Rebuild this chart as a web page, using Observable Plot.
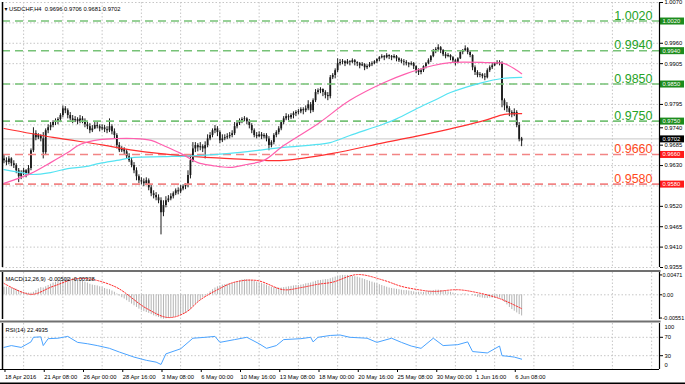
<!DOCTYPE html>
<html><head><meta charset="utf-8">
<script src="https://cdn.jsdelivr.net/npm/d3@7"></script>
<script src="https://cdn.jsdelivr.net/npm/@observablehq/plot@0.6"></script>
<style>
body{margin:0;background:#fff;}
#chart{position:relative;width:685px;height:384px;overflow:hidden;background:#fff;}
#chart svg{position:absolute;left:0;overflow:visible;}
</style></head><body><div id="chart"></div>
<script>
// ---------- DATA ----------
const symbolTitle = "\u25BE USDCHF,H4  0.9696 0.9706 0.9681 0.9702";
const macdTitle = "MACD(12,26,9) -0.00502 -0.00328";
const rsiTitle = "RSI(14) 22.4935";

const open = [0.9648,0.9643,0.9638,0.9648,0.9635,0.9630,0.9616,0.9600,0.9611,0.9616,0.9608,0.9622,0.9670,0.9716,0.9705,0.9711,0.9702,0.9665,0.9724,0.9732,0.9738,0.9746,0.9748,0.9754,0.9765,0.9783,0.9778,0.9765,0.9756,0.9751,0.9754,0.9748,0.9756,0.9751,0.9740,0.9735,0.9724,0.9729,0.9738,0.9735,0.9729,0.9732,0.9727,0.9724,0.9735,0.9721,0.9711,0.9684,0.9670,0.9673,0.9667,0.9654,0.9643,0.9630,0.9616,0.9600,0.9589,0.9586,0.9581,0.9589,0.9570,0.9554,0.9549,0.9543,0.9535,0.9503,0.9522,0.9535,0.9540,0.9546,0.9554,0.9562,0.9559,0.9567,0.9573,0.9576,0.9603,0.9643,0.9675,0.9684,0.9678,0.9681,0.9675,0.9684,0.9702,0.9711,0.9724,0.9729,0.9719,0.9697,0.9702,0.9705,0.9708,0.9711,0.9716,0.9735,0.9743,0.9751,0.9754,0.9756,0.9748,0.9738,0.9724,0.9711,0.9708,0.9713,0.9708,0.9711,0.9702,0.9684,0.9692,0.9711,0.9719,0.9729,0.9746,0.9756,0.9762,0.9759,0.9765,0.9770,0.9773,0.9775,0.9781,0.9778,0.9783,0.9794,0.9778,0.9805,0.9827,0.9832,0.9835,0.9827,0.9819,0.9816,0.9867,0.9873,0.9886,0.9905,0.9908,0.9910,0.9905,0.9910,0.9908,0.9913,0.9908,0.9905,0.9899,0.9902,0.9894,0.9897,0.9902,0.9905,0.9910,0.9916,0.9921,0.9924,0.9921,0.9927,0.9924,0.9921,0.9924,0.9918,0.9913,0.9910,0.9908,0.9905,0.9902,0.9905,0.9897,0.9886,0.9881,0.9886,0.9897,0.9905,0.9913,0.9924,0.9940,0.9943,0.9948,0.9940,0.9929,0.9924,0.9927,0.9921,0.9913,0.9908,0.9918,0.9935,0.9940,0.9945,0.9935,0.9927,0.9894,0.9881,0.9873,0.9875,0.9870,0.9867,0.9886,0.9894,0.9899,0.9905,0.9908,0.9905,0.9805,0.9791,0.9783,0.9773,0.9767,0.9773,0.9738,0.9696];
const high = [0.9657,0.9651,0.9654,0.9651,0.9643,0.9635,0.9622,0.9616,0.9622,0.9619,0.9630,0.9675,0.9732,0.9724,0.9716,0.9713,0.9719,0.9729,0.9740,0.9746,0.9751,0.9756,0.9759,0.9770,0.9791,0.9789,0.9783,0.9773,0.9765,0.9762,0.9759,0.9765,0.9762,0.9756,0.9748,0.9743,0.9738,0.9746,0.9746,0.9740,0.9740,0.9738,0.9735,0.9756,0.9740,0.9729,0.9716,0.9692,0.9681,0.9678,0.9673,0.9662,0.9651,0.9638,0.9624,0.9605,0.9597,0.9594,0.9597,0.9594,0.9576,0.9562,0.9557,0.9551,0.9543,0.9535,0.9546,0.9549,0.9554,0.9559,0.9567,0.9570,0.9576,0.9578,0.9581,0.9616,0.9657,0.9692,0.9692,0.9689,0.9692,0.9686,0.9694,0.9713,0.9719,0.9729,0.9738,0.9735,0.9724,0.9713,0.9713,0.9716,0.9719,0.9724,0.9746,0.9751,0.9756,0.9759,0.9762,0.9759,0.9754,0.9743,0.9729,0.9719,0.9721,0.9719,0.9716,0.9716,0.9708,0.9697,0.9716,0.9724,0.9735,0.9751,0.9762,0.9770,0.9767,0.9770,0.9775,0.9778,0.9781,0.9786,0.9786,0.9791,0.9805,0.9800,0.9810,0.9835,0.9837,0.9840,0.9837,0.9832,0.9827,0.9873,0.9878,0.9891,0.9918,0.9916,0.9916,0.9913,0.9916,0.9913,0.9918,0.9916,0.9910,0.9908,0.9908,0.9905,0.9902,0.9908,0.9910,0.9913,0.9918,0.9924,0.9929,0.9927,0.9932,0.9929,0.9927,0.9929,0.9927,0.9921,0.9918,0.9916,0.9913,0.9908,0.9910,0.9908,0.9899,0.9891,0.9891,0.9899,0.9908,0.9918,0.9927,0.9943,0.9948,0.9956,0.9951,0.9943,0.9935,0.9932,0.9929,0.9924,0.9916,0.9921,0.9937,0.9943,0.9953,0.9948,0.9940,0.9929,0.9899,0.9886,0.9881,0.9878,0.9878,0.9891,0.9899,0.9905,0.9908,0.9913,0.9913,0.9910,0.9810,0.9800,0.9789,0.9778,0.9783,0.9778,0.9746,0.9706];
const low = [0.9635,0.9630,0.9632,0.9627,0.9622,0.9608,0.9584,0.9592,0.9603,0.9597,0.9603,0.9616,0.9665,0.9697,0.9700,0.9694,0.9648,0.9657,0.9716,0.9724,0.9732,0.9738,0.9740,0.9746,0.9759,0.9770,0.9756,0.9751,0.9743,0.9746,0.9740,0.9743,0.9743,0.9732,0.9727,0.9716,0.9719,0.9727,0.9729,0.9721,0.9724,0.9719,0.9716,0.9719,0.9713,0.9702,0.9675,0.9665,0.9665,0.9659,0.9648,0.9638,0.9624,0.9608,0.9589,0.9581,0.9578,0.9573,0.9576,0.9562,0.9546,0.9540,0.9535,0.9527,0.9443,0.9492,0.9516,0.9530,0.9535,0.9540,0.9549,0.9551,0.9554,0.9562,0.9565,0.9570,0.9594,0.9638,0.9665,0.9667,0.9670,0.9665,0.9648,0.9678,0.9697,0.9705,0.9716,0.9708,0.9689,0.9692,0.9697,0.9700,0.9702,0.9705,0.9711,0.9729,0.9738,0.9743,0.9748,0.9740,0.9729,0.9716,0.9705,0.9702,0.9705,0.9700,0.9702,0.9694,0.9670,0.9678,0.9686,0.9705,0.9713,0.9724,0.9740,0.9751,0.9751,0.9754,0.9756,0.9762,0.9767,0.9770,0.9767,0.9773,0.9778,0.9770,0.9773,0.9800,0.9821,0.9824,0.9816,0.9810,0.9805,0.9810,0.9862,0.9864,0.9881,0.9899,0.9902,0.9897,0.9902,0.9899,0.9905,0.9899,0.9897,0.9891,0.9897,0.9886,0.9889,0.9894,0.9897,0.9902,0.9905,0.9910,0.9918,0.9913,0.9918,0.9916,0.9913,0.9918,0.9910,0.9908,0.9905,0.9899,0.9899,0.9894,0.9899,0.9889,0.9878,0.9873,0.9875,0.9881,0.9891,0.9902,0.9908,0.9921,0.9932,0.9937,0.9932,0.9924,0.9918,0.9921,0.9913,0.9908,0.9899,0.9905,0.9916,0.9929,0.9937,0.9929,0.9921,0.9886,0.9873,0.9867,0.9867,0.9864,0.9859,0.9864,0.9881,0.9889,0.9897,0.9902,0.9899,0.9786,0.9778,0.9773,0.9762,0.9759,0.9762,0.9732,0.9694,0.9681];
const close = [0.9643,0.9638,0.9648,0.9635,0.9630,0.9616,0.9600,0.9611,0.9616,0.9608,0.9622,0.9670,0.9716,0.9705,0.9711,0.9702,0.9665,0.9724,0.9732,0.9738,0.9746,0.9748,0.9754,0.9765,0.9783,0.9778,0.9765,0.9756,0.9751,0.9754,0.9748,0.9756,0.9751,0.9740,0.9735,0.9724,0.9729,0.9738,0.9735,0.9729,0.9732,0.9727,0.9724,0.9735,0.9721,0.9711,0.9684,0.9670,0.9673,0.9667,0.9654,0.9643,0.9630,0.9616,0.9600,0.9589,0.9586,0.9581,0.9589,0.9570,0.9554,0.9549,0.9543,0.9535,0.9503,0.9522,0.9535,0.9540,0.9546,0.9554,0.9562,0.9559,0.9567,0.9573,0.9576,0.9603,0.9643,0.9675,0.9684,0.9678,0.9681,0.9675,0.9684,0.9702,0.9711,0.9724,0.9729,0.9719,0.9697,0.9702,0.9705,0.9708,0.9711,0.9716,0.9735,0.9743,0.9751,0.9754,0.9756,0.9748,0.9738,0.9724,0.9711,0.9708,0.9713,0.9708,0.9711,0.9702,0.9684,0.9692,0.9711,0.9719,0.9729,0.9746,0.9756,0.9762,0.9759,0.9765,0.9770,0.9773,0.9775,0.9781,0.9778,0.9783,0.9794,0.9778,0.9805,0.9827,0.9832,0.9835,0.9827,0.9819,0.9816,0.9867,0.9873,0.9886,0.9905,0.9908,0.9910,0.9905,0.9910,0.9908,0.9913,0.9908,0.9905,0.9899,0.9902,0.9894,0.9897,0.9902,0.9905,0.9910,0.9916,0.9921,0.9924,0.9921,0.9927,0.9924,0.9921,0.9924,0.9918,0.9913,0.9910,0.9908,0.9905,0.9902,0.9905,0.9897,0.9886,0.9881,0.9886,0.9897,0.9905,0.9913,0.9924,0.9940,0.9943,0.9948,0.9940,0.9929,0.9924,0.9927,0.9921,0.9913,0.9908,0.9918,0.9935,0.9940,0.9945,0.9935,0.9927,0.9894,0.9881,0.9873,0.9875,0.9870,0.9867,0.9886,0.9894,0.9899,0.9905,0.9908,0.9905,0.9805,0.9791,0.9783,0.9773,0.9767,0.9773,0.9738,0.9700,0.9702];

const maRedIdx = [0,20,40,53,72,92,106,114,134,155,175,196,204,211];
const maRedVal = [0.9730,0.9706,0.9686,0.9671,0.9657,0.9649,0.9644,0.9644,0.9663,0.9692,0.9719,0.9752,0.9768,0.9770];
const maPinkIdx = [0,11,19,26,31,39,46,53,60,65,72,79,85,92,99,106,114,128,141,155,164,175,182,196,204,209,211];
const maPinkVal = [0.9582,0.9609,0.9638,0.9665,0.9687,0.9700,0.9703,0.9703,0.9698,0.9684,0.9663,0.9638,0.9630,0.9625,0.9633,0.9644,0.9684,0.9743,0.9806,0.9854,0.9878,0.9900,0.9908,0.9908,0.9905,0.9887,0.9878];
const maCyanIdx = [0,7,11,19,26,33,39,46,53,65,79,92,106,114,128,133,141,155,160,169,177,182,195,203,211];
const maCyanVal = [0.9619,0.9611,0.9606,0.9611,0.9622,0.9627,0.9636,0.9644,0.9652,0.9654,0.9657,0.9663,0.9673,0.9679,0.9687,0.9692,0.9711,0.9743,0.9756,0.9786,0.9811,0.9827,0.9854,0.9865,0.9868];

const greenLevels = [1.0020, 0.9940, 0.9850, 0.9750];
const redLevels = [0.9660, 0.9580];
const lastPrice = 0.9702;
const priceTicks = [1.0070,1.0015,0.9960,0.9905,0.9850,0.9795,0.9740,0.9685,0.9630,0.9575,0.9520,0.9465,0.9410,0.9355];
const priceTicksUnderBoxes = [1.0015, 0.9850, 0.9575];
const priceTicksPushedDown = [0.9740];

const macdHist = [0.0018,0.0018,0.0017,0.0016,0.0015,0.0013,0.0010,0.0008,0.0006,0.0005,
0.0004,0.0004,0.0006,0.0010,0.0014,0.0017,0.0016,0.0019,0.0022,0.0025,
0.0028,0.0030,0.0032,0.0034,0.0037,0.0039,0.0040,0.0040,0.0039,0.0038,
0.0036,0.0034,0.0032,0.0030,0.0028,0.0025,0.0023,0.0022,0.0021,0.0019,
0.0017,0.0015,0.0013,0.0012,0.0009,0.0006,0.0002,-0.0003,-0.0007,-0.0010,
-0.0014,-0.0018,-0.0022,-0.0026,-0.0030,-0.0034,-0.0037,-0.0040,-0.0042,-0.0044,
-0.0047,-0.0050,-0.0052,-0.0054,-0.0057,-0.0058,-0.0057,-0.0056,-0.0055,-0.0054,
-0.0052,-0.0050,-0.0048,-0.0046,-0.0044,-0.0040,-0.0034,-0.0028,-0.0022,-0.0017,
-0.0012,-0.0007,-0.0003,0.0002,0.0007,0.0012,0.0016,0.0019,0.0021,0.0023,
0.0024,0.0025,0.0026,0.0027,0.0029,0.0031,0.0033,0.0035,0.0036,0.0036,
0.0035,0.0034,0.0032,0.0030,0.0028,0.0027,0.0025,0.0023,0.0020,0.0018,
0.0017,0.0016,0.0016,0.0016,0.0017,0.0018,0.0019,0.0020,0.0021,0.0022,
0.0022,0.0023,0.0024,0.0026,0.0027,0.0028,0.0030,0.0032,0.0034,0.0034,
0.0035,0.0036,0.0036,0.0038,0.0040,0.0042,0.0044,0.0045,0.0046,0.0046,
0.0046,0.0045,0.0044,0.0043,0.0042,0.0040,0.0038,0.0036,0.0034,0.0032,
0.0030,0.0028,0.0026,0.0024,0.0022,0.0020,0.0018,0.0016,0.0015,0.0014,
0.0013,0.0012,0.0011,0.0010,0.0010,0.0009,0.0008,0.0007,0.0006,0.0006,
0.0006,0.0006,0.0007,0.0008,0.0009,0.0010,0.0011,0.0011,0.0010,0.0009,
0.0008,0.0007,0.0006,0.0004,0.0002,0.0001,0.0001,0.0002,0.0002,0.0001,
0.0000,-0.0002,-0.0004,-0.0006,-0.0007,-0.0008,-0.0009,-0.0009,-0.0008,-0.0008,
-0.0008,-0.0008,-0.0008,-0.0012,-0.0018,-0.0024,-0.0030,-0.0035,-0.0039,-0.0043,
-0.0047,-0.00502];
const macdSignalIdx = [0,11,20,31,45,58,67,74,80,87,94,103,114,121,128,134,144,155,162,169,175,185,193,202,211];
const macdSignalVal = [0.0027,0.0001,0.0020,0.0039,0.0020,-0.0032,-0.0054,-0.0042,-0.0012,0.0012,0.0030,0.0034,0.0012,0.0017,0.0025,0.0030,0.0048,0.0034,0.0020,0.0012,0.0008,0.0012,0.0005,-0.0009,-0.00328];
const macdTicks = [0.00471, 0, -0.00551];
const macdTickLabels = ["0.00471", "0.00", "-0.00551"];

const rsiIdx = [0,3,7,11,12,15,16,18,22,26,30,34,38,43,47,53,58,62,64,66,72,77,82,86,88,94,99,104,107,111,114,121,125,126,128,133,137,141,148,152,158,162,166,170,175,179,185,189,191,197,202,203,205,208,211];
const rsiVal = [48,52,48,60,70,71,52,67,68,72,59,56,52,46,38,27,20,16,11,34,45,68,70,72,59,65,70,56,46,52,65,67,70,60,70,74,75,70,68,59,68,59,51,46,68,52,54,60,39,36,51,30,29,27,22.49];
const rsiLevels = [70, 30];

const xTickIdx = [0,16,32,48,64,80,96,112,128,144,160,176,192,208];
const xTickLabels = ["18 Apr 2016","21 Apr 08:00","26 Apr 00:00","28 Apr 16:00","3 May 08:00","6 May 00:00","10 May 16:00","13 May 08:00","18 May 00:00","20 May 16:00","25 May 08:00","30 May 00:00","1 Jun 16:00","6 Jun 08:00"];
const gridIdx = [8,24,40,56,72,88,104,120,136,152,168,184,200,216,232,248,264];

// ---------- LAYOUT ----------
const W = 685, ML = 2, MR = 26;
const FRAME_W = W - ML - MR;
const FONT = "'Liberation Sans', Arial, 'DejaVu Sans', sans-serif";
const xDomain = [-0.61, 267.2];
const GRID = {stroke: "#c6c6c6", strokeDasharray: "1.5,2", strokeWidth: 1};
const GREEN_LINE = "#77c277", GREEN_TEXT = "#27a327", GREEN_BOX = "#1d8c1d";
const RED_LINE = "#f28585", RED_TEXT = "#ff4a1c", RED_BOX = "#ff1a1a";
const SEP = {stroke: "#707070", strokeWidth: 2};
const smallFont = 5.8;
const fmt4 = d => d.toFixed(4);

const bars = open.map((o, i) => ({i, o, h: high[i], l: low[i], c: close[i]}));
const pairs = (idx, val) => idx.map((i, k) => ({i, v: val[k]}));
const maRed = pairs(maRedIdx, maRedVal);
const maPink = pairs(maPinkIdx, maPinkVal);
const maCyan = pairs(maCyanIdx, maCyanVal);
const macd = macdHist.map((v, i) => ({i, v}));
const signal = pairs(macdSignalIdx, macdSignalVal);
const rsi = pairs(rsiIdx, rsiVal);
const xLabel = new Map(xTickIdx.map((d, k) => [d, xTickLabels[k]]));
const macdLabel = new Map(macdTicks.map((d, k) => [d, macdTickLabels[k]]));
const normalPriceTicks = priceTicks.filter(d => !priceTicksUnderBoxes.includes(d) && !priceTicksPushedDown.includes(d));

const rightBox = (values, fill) => [
  Plot.ruleY(values, {stroke: fill, strokeWidth: 7, insetLeft: FRAME_W + 1, insetRight: -(MR - 1)}),
  Plot.text(values, {y: d => d, text: fmt4, frameAnchor: "right", textAnchor: "start", dx: 3, fill: "white", fontSize: smallFont})
];
const sideBorders = [
  Plot.ruleX([xDomain[0]], {stroke: "#000", strokeWidth: 1.5, insetLeft: -1}),
  Plot.ruleX([xDomain[1]], {stroke: "#000", strokeWidth: 1.2})
];

const main = Plot.plot({
  width: W, height: 270, marginLeft: ML, marginRight: MR, marginTop: 2, marginBottom: 3,
  style: {fontFamily: FONT, fontSize: smallFont + "px", background: "transparent", color: "#000"},
  x: {domain: xDomain, axis: null},
  y: {domain: [0.9355, 1.0070], axis: null},
  marks: [
    Plot.ruleY(priceTicks, GRID),
    Plot.ruleX(gridIdx, GRID),
    Plot.ruleY([lastPrice], {stroke: "#c8c8c8"}),
    Plot.ruleX(bars, {x: "i", y1: "l", y2: "h", stroke: "#1a1a1a", strokeWidth: 1}),
    Plot.ruleX(bars, {x: "i", y1: "o", y2: "c", stroke: "#1a1a1a", strokeWidth: 1.8}),
    Plot.ruleY(greenLevels, {stroke: GREEN_LINE, strokeWidth: 1.6, strokeDasharray: "8,5"}),
    Plot.ruleY(redLevels, {stroke: RED_LINE, strokeWidth: 1.6, strokeDasharray: "8,5"}),
    Plot.line(maRed, {x: "i", y: "v", stroke: "#ff3030", strokeWidth: 1.2, curve: "catmull-rom"}),
    Plot.line(maCyan, {x: "i", y: "v", stroke: "#55e3f2", strokeWidth: 1.2, curve: "catmull-rom"}),
    Plot.line(maPink, {x: "i", y: "v", stroke: "#ff5fae", strokeWidth: 1.2, curve: "catmull-rom"}),
    Plot.text(greenLevels, {y: d => d, text: fmt4, frameAnchor: "right", textAnchor: "end", dx: -7, dy: -5.5, fill: GREEN_TEXT, fontSize: 12.5}),
    Plot.text(redLevels, {y: d => d, text: fmt4, frameAnchor: "right", textAnchor: "end", dx: -7, dy: -5.5, fill: RED_TEXT, fontSize: 12.5}),
    Plot.text([symbolTitle], {frameAnchor: "top-left", dx: 2, dy: 4.5, fill: "#000", fontSize: smallFont}),
    Plot.axisY(normalPriceTicks, {anchor: "right", tickSize: 3, tickPadding: 2, tickFormat: fmt4, fontSize: smallFont, label: null}),
    Plot.axisY(priceTicksPushedDown, {anchor: "right", tickSize: 3, tickPadding: 2, tickFormat: fmt4, fontSize: smallFont, dy: 3, label: null}),
    ...rightBox(greenLevels, GREEN_BOX),
    ...rightBox(redLevels, RED_BOX),
    ...rightBox([lastPrice], "#000"),
    ...sideBorders
  ]
});

const macdPlot = Plot.plot({
  width: W, height: 51, marginLeft: ML, marginRight: MR, marginTop: 2, marginBottom: 2,
  style: {fontFamily: FONT, fontSize: smallFont + "px", background: "transparent", color: "#000"},
  x: {domain: xDomain, axis: null},
  y: {domain: [-0.00586, 0.00529], axis: null},
  marks: [
    Plot.ruleY([0], GRID),
    Plot.ruleX(gridIdx, GRID),
    Plot.ruleX(macd, {x: "i", y1: 0, y2: "v", stroke: "#b4b4b4", strokeWidth: 1}),
    Plot.line(signal, {x: "i", y: "v", stroke: "#ff2a2a", strokeWidth: 1, strokeDasharray: "1.5,1.5", curve: "catmull-rom"}),
    Plot.text([macdTitle], {frameAnchor: "top-left", dx: 3, dy: 4, fill: "#000", fontSize: smallFont}),
    Plot.axisY(macdTicks, {anchor: "right", tickSize: 2, tickPadding: 1, tickFormat: d => macdLabel.get(d), fontSize: 5.5, label: null}),
    ...sideBorders,
    Plot.frame({...SEP, anchor: "top", insetTop: -1.5, insetLeft: -2}),
    Plot.frame({...SEP, anchor: "bottom", insetBottom: -2, insetLeft: -2})
  ]
});

const rsiPlot = Plot.plot({
  width: W, height: 63, marginLeft: ML, marginRight: MR, marginTop: 2, marginBottom: 15,
  style: {fontFamily: FONT, fontSize: smallFont + "px", background: "transparent", color: "#000"},
  x: {domain: xDomain, axis: null},
  y: {domain: [0, 100], axis: null},
  marks: [
    Plot.ruleY(rsiLevels, GRID),
    Plot.ruleX(gridIdx, GRID),
    Plot.line(rsi, {x: "i", y: "v", stroke: "#4aa3ff", strokeWidth: 1}),
    Plot.text([rsiTitle], {frameAnchor: "top-left", dx: 3, dy: 4, fill: "#000", fontSize: smallFont}),
    Plot.axisY([70, 30], {anchor: "right", tickSize: 3, tickPadding: 2, fontSize: smallFont, label: null}),
    Plot.axisY([100], {anchor: "right", tickSize: 0, tickPadding: 5, dy: 3.5, fontSize: smallFont, label: null}),
    Plot.axisY([0], {anchor: "right", tickSize: 0, tickPadding: 5, dy: -4.5, fontSize: smallFont, label: null}),
    Plot.axisX(xTickIdx, {anchor: "bottom", tickSize: 3, tickPadding: 2, tickFormat: d => xLabel.get(d), textAnchor: "start", dx: 1, fontSize: smallFont, label: null}),
    Plot.ruleY([0], {stroke: "#000", strokeWidth: 1, insetLeft: -2}),
    Plot.ruleY([0], {stroke: "#000", strokeWidth: 2, dy: 14, insetLeft: -2, insetRight: -MR}),
    ...sideBorders
  ]
});

const holder = document.getElementById("chart");
[[main, 0], [macdPlot, 270], [rsiPlot, 321]].forEach(([svg, top]) => {
  svg.style.top = top + "px";
  holder.appendChild(svg);
});
</script>
</body></html>
